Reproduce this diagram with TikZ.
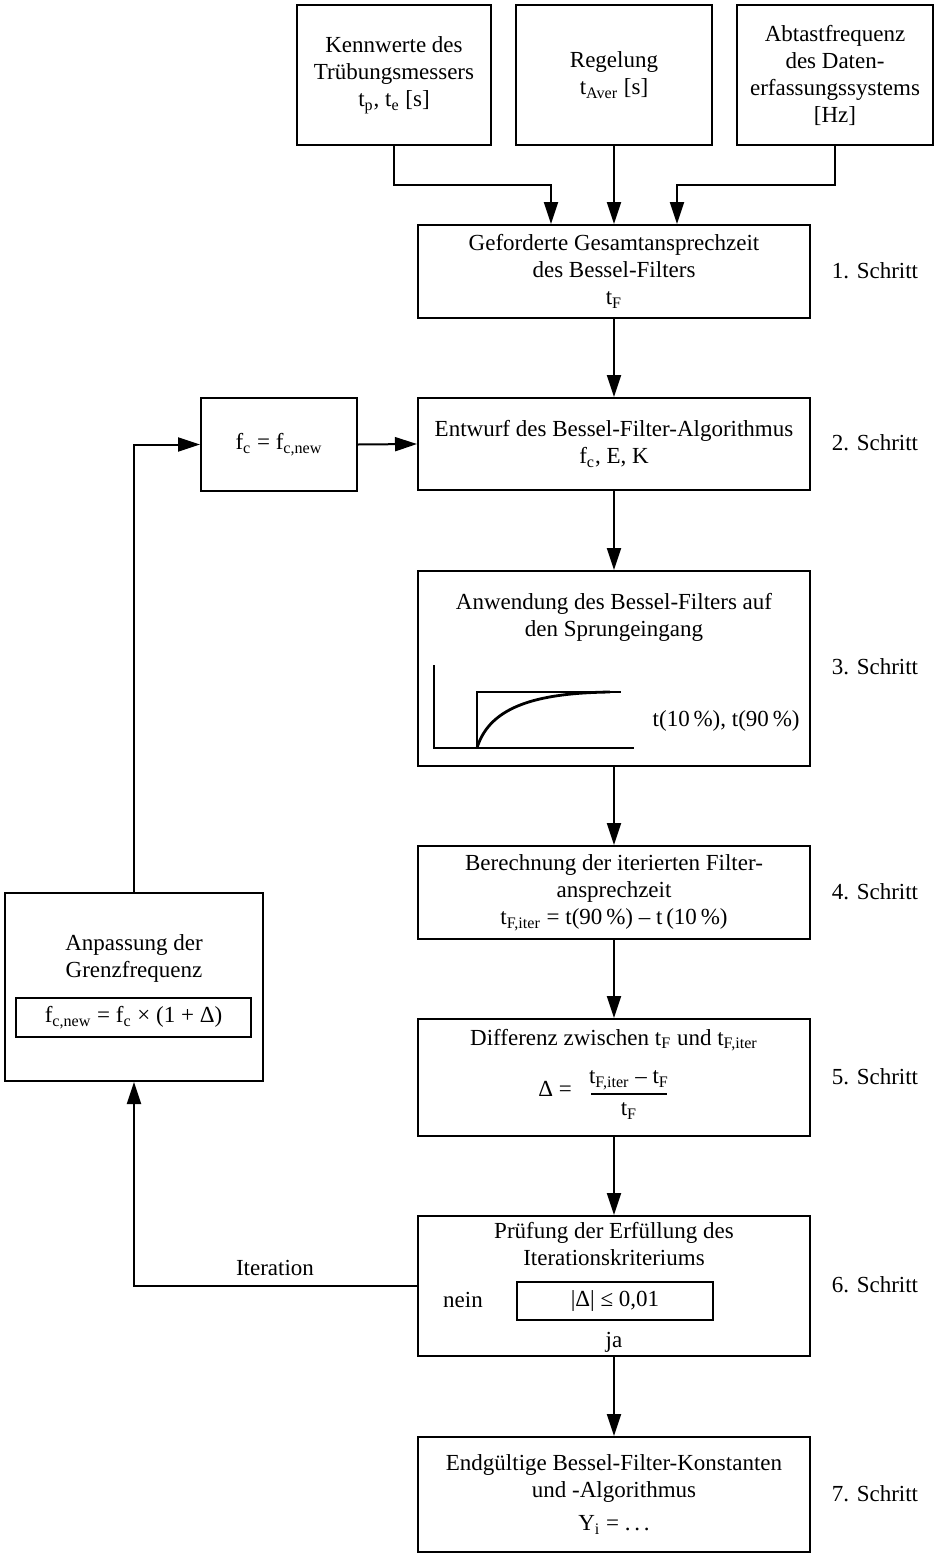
\documentclass[tikz,border=0pt]{standalone}
\usepackage{fontspec}
\setmainfont{Liberation Serif}
\usetikzlibrary{arrows.meta}
\begin{document}
\begin{tikzpicture}[x=0.5pt,y=-0.5pt,
  box/.style={draw,line width=1pt,minimum width=196pt,align=center,inner sep=0pt,
    font=\fontsize{11.5}{13.5}\selectfont},
  lbl/.style={inner sep=0pt,align=center,font=\fontsize{11.5}{13.5}\selectfont},
  arr/.style={line width=1pt,-{Triangle[length=11pt,width=7pt]}},
  ln/.style={line width=1pt}]
\useasboundingbox (0,0) rectangle (936,1558);
% top boxes
\node[box,minimum width=97pt,minimum height=70pt] (A) at (394,75) {Kennwerte des\\Trübungsmessers\\t\textsubscript{p}, t\textsubscript{e} [s]};
\node[box,minimum width=98pt,minimum height=70pt] (B) at (614,75) {Regelung\\t\textsubscript{Aver} [s]};
\node[box,minimum width=98pt,minimum height=70pt] (C) at (835,75) {Abtastfrequenz\\des Daten-\\erfassungssystems\\{[Hz]}};
% main column
\node[box,minimum height=46.5pt] (b1) at (614,271.5) {Geforderte Gesamtansprechzeit\\des Bessel-Filters\\t\textsubscript{F}};
\node[box,minimum height=46pt] (b2) at (614,444) {Entwurf des Bessel-Filter-Algorithmus\\f\textsubscript{c}, E, K};
\node[box,minimum width=78pt,minimum height=46.5pt] (fc) at (279,444.5) {f\textsubscript{c} = f\textsubscript{c,new}};
\node[box,minimum height=97.5pt] (b3) at (614,668.5) {};
\node[lbl] (b3t) at (614,617.5) {Anwendung des Bessel-Filters auf\\den Sprungeingang};
\node[lbl,anchor=east] (b3r) at (800,721) {t(10\,\%), t(90\,\%)};
\node[box,minimum height=46.5pt] (b4) at (614,892.5) {Berechnung der iterierten Filter-\\ansprechzeit\\t\textsubscript{F,iter} = t(90\,\%) – t\,(10\,\%)};
\node[box,minimum height=58.5pt] (b5) at (614,1077.5) {};
\node[lbl] (b5t) at (614,1040) {Differenz zwischen t\textsubscript{F} und t\textsubscript{F,iter}};
\node[lbl] (b5d) at (555,1089) {Δ =};
\node[lbl] (b5n) at (629,1080) {t\textsubscript{F,iter} – t\textsubscript{F}};
\node[lbl] (b5m) at (629,1111) {t\textsubscript{F}};
\draw[line width=0.8pt] (591,1094) -- (667,1094);
\node[box,minimum height=70pt] (b6) at (614,1286) {};
\node[lbl] (b6t) at (614,1243.5) {Prüfung der Erfüllung des\\Iterationskriteriums};
\node[box,minimum width=98pt,minimum height=19pt] (crit) at (615,1301) {|Δ| ≤ 0,01};
\node[lbl] (nein) at (463,1300) {nein};
\node[lbl] (ja) at (614,1342) {ja};
\node[box,minimum height=57.5pt] (b7) at (614,1494.5) {Endgültige Bessel-Filter-Konstanten\\und -Algorithmus\\[3pt]Y\textsubscript{i} = .\,.\,.};
% left box
\node[box,minimum width=129pt,minimum height=94pt] (L) at (134,987) {};
\node[lbl] (Lt) at (134,958.5) {Anpassung der\\Grenzfrequenz};
\node[box,minimum width=117.5pt,minimum height=19.5pt] (Lf) at (133.5,1017.5) {f\textsubscript{c,new} = f\textsubscript{c} × (1 + Δ)};
% step labels
\foreach \n/\y in {1/271,2/443,3/667,4/892,5/1077,6/1285,7/1494}
  \node[lbl] (s\n) at (875,\y) {\n. Schritt};
\node[lbl] (it) at (275,1268) {Iteration};
% graph
\draw[line width=1pt] (434,665) -- (434,748) -- (634,748);
\draw[line width=1.4pt] (477,748) -- (477,692) -- (621,692);
\draw[line width=1.4pt] (477,748) .. controls (490,705) and (540,693) .. (610,692);
% connectors
\coordinate (ja1) at (551,185);
\coordinate (jc1) at (677,185);
\draw[arr] (A.south) |- (ja1) -- (ja1 |- b1.north);
\draw[arr] (B.south) -- (b1.north);
\draw[arr] (C.south) |- (jc1) -- (jc1 |- b1.north);
\draw[arr] (b1.south) -- (b2.north);
\draw[arr] (fc.east) -- (b2.west);
\draw[arr] (b2.south) -- (b3.north);
\draw[arr] (b3.south) -- (b4.north);
\draw[arr] (b4.south) -- (b5.north);
\draw[arr] (b5.south) -- (b6.north);
\draw[arr] (b6.south) -- (b7.north);
\draw[arr] (L.north) |- (fc.west);
\draw[arr] (b6.west) -| (L.south);
\end{tikzpicture}
\end{document}
